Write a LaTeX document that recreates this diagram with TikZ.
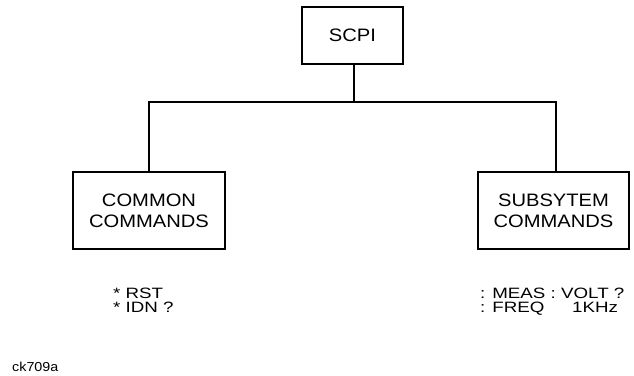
\documentclass[tikz,border=0pt]{standalone}
\usepackage{fontspec}
\setmainfont{Liberation Sans}
\newfontfamily\widefont[FakeStretch=1.12]{Liberation Sans}
\newfontfamily\widerfont[FakeStretch=1.25]{Liberation Sans}
\newfontfamily\tagfont[FakeStretch=1.1]{Liberation Sans}
\begin{document}
\begin{tikzpicture}[x=1pt,y=-1pt,
  box/.style={draw, line width=1.5pt, inner sep=0pt, align=center,
    font=\widefont\fontsize{18}{21}\selectfont},
  link/.style={line width=1.5pt},
  lbl/.style={inner sep=0pt, align=left, anchor=base west,
    font=\widerfont\fontsize{15}{14}\selectfont},
  tag/.style={inner sep=0pt, anchor=base west,
    font=\tagfont\fontsize{13}{15}\selectfont}]
\useasboundingbox (0,0) rectangle (634,375);
\node[box, minimum width=101pt, minimum height=57pt] (scpi) at (352.5,35.5) {SCPI};
\node[box, minimum width=152pt, minimum height=77pt] (common) at (149,210.5) {COMMON\\COMMANDS};
\node[box, minimum width=151pt, minimum height=77pt] (subsys) at (553.5,210.5) {SUBSYTEM\\COMMANDS};
\coordinate (hub) at (354,102);
\draw[link] (scpi.south -| hub) -- (hub);
\draw[link] (common.north) |- (hub) -| (subsys.north -| 556,0);
\node[lbl] (cmds1) at (113,312) {* RST\\* IDN ?};
\node[lbl] (cmds2) at (480,312) {: MEAS : VOLT ?\\\makebox[92pt][l]{: FREQ}1KHz};
\node[tag] (code) at (12,371) {ck709a};
\end{tikzpicture}
\end{document}
